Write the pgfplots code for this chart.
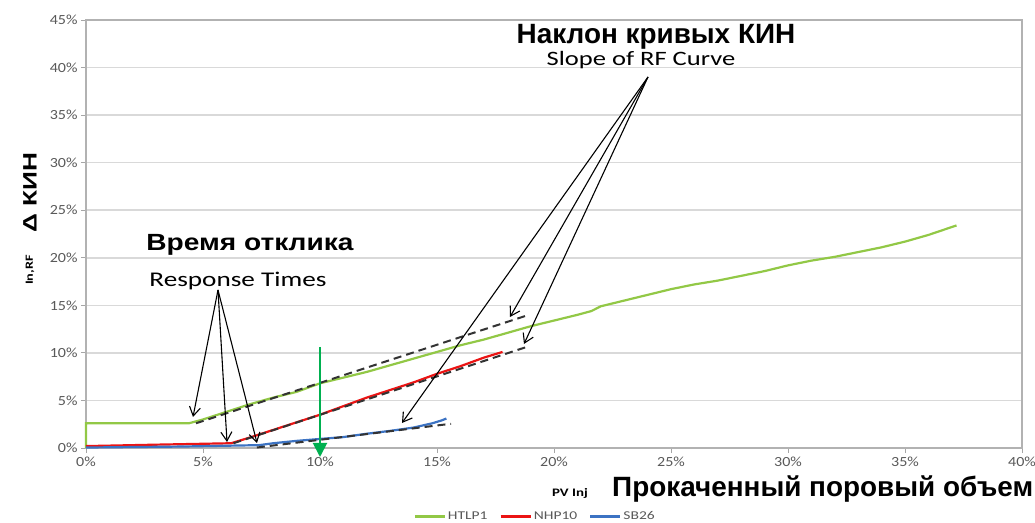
\documentclass[border=0pt]{standalone}
\usepackage{fontspec}
\setmainfont{Carlito}
\newfontfamily\ruf{Liberation Sans}
\newfontfamily\rufw[FakeStretch=1.2]{Liberation Sans}
\newfontfamily\rufs[FakeStretch=1.35]{Liberation Sans}
\newfontfamily\enf[FakeStretch=1.3]{Carlito}
\newfontfamily\tkf[FakeStretch=1.15]{Carlito}
\usepackage{pgfplots}
\pgfplotsset{compat=1.18}
\usetikzlibrary{arrows.meta}

\definecolor{htlp}{RGB}{146,200,70}
\definecolor{nhp}{RGB}{235,20,20}
\definecolor{sbb}{RGB}{60,115,195}
\definecolor{garrow}{RGB}{0,176,80}
\definecolor{tickgray}{RGB}{89,89,89}

\begin{document}
\begin{tikzpicture}
\begin{axis}[
    at={(0,0)}, anchor=south west,
    scale only axis,
    width=936bp, height=428bp,
    xmin=0, xmax=40,
    ymin=0, ymax=45,
    xtick={0,5,...,40},
    ytick={0,5,...,45},
    xticklabel={\pgfmathprintnumber[assume math mode=true]{\tick}\%},
    yticklabel={\pgfmathprintnumber[assume math mode=true]{\tick}\%},
    ticklabel style={font=\tkf\fontsize{14}{15}\selectfont, text=tickgray},
    tick align=outside,
    xtick pos=lower, ytick pos=left,
    major tick length=5bp,
    tick style={gray!70, line width=0.8bp},
    ymajorgrids=true,
    grid style={gray!30, line width=1.5bp},
    axis line style={gray!60, line width=1.2bp},
    clip=false,
    legend columns=3,
    legend style={at={(0.48,-0.16)}, anchor=center, draw=none,
        font=\enf\fontsize{12}{13}\selectfont, text=tickgray,
        /tikz/every even column/.append style={column sep=10bp}},
    legend image code/.code={\draw[#1] (0bp,0bp) -- (30bp,0bp);},
]

% HTLP1
\addplot[color=htlp, line width=2.2bp] coordinates {
    (0,0)(0,2.6)(4.4,2.6)(5,3.0)(6,3.8)(7,4.6)(8,5.3)(9,5.9)(10,6.8)
    (11,7.4)(12,8.0)(13,8.7)(14,9.4)(15,10.1)(16,10.8)(17,11.4)(18,12.1)
    (19,12.8)(20,13.4)(21,14.0)(21.6,14.4)(22,14.9)(23,15.5)(24,16.1)
    (25,16.7)(26,17.2)(27,17.6)(28,18.1)(29,18.6)(30,19.2)(31,19.7)
    (32,20.1)(33,20.6)(34,21.1)(35,21.7)(36,22.4)(37.2,23.4)
};
\addlegendentry{HTLP1}

% NHP10
\addplot[color=nhp, line width=2.2bp] coordinates {
    (0,0.2)(3,0.35)(6.2,0.5)(7,1.1)(8,1.9)(9,2.7)(10,3.5)(11,4.4)(12,5.3)
    (13,6.1)(14,6.9)(15,7.8)(16,8.6)(17,9.5)(17.8,10.1)
};
\addlegendentry{NHP10}

% SB26
\addplot[color=sbb, line width=2.2bp] coordinates {
    (0,0.05)(4,0.15)(7.4,0.3)(8,0.5)(9,0.75)(10,0.95)(11,1.15)(12,1.5)
    (13,1.8)(14,2.15)(14.8,2.6)(15.2,2.9)(15.4,3.1)
};
\addlegendentry{SB26}

% slope lines
\addplot[forget plot, black!80, line width=2bp, dash pattern=on 8bp off 5bp]
    coordinates {(4.7,2.6)(18.8,13.9)};
\addplot[forget plot, black!80, line width=2bp, dash pattern=on 8bp off 5bp]
    coordinates {(6.3,0.5)(18.8,10.6)};
\addplot[forget plot, black!80, line width=2bp, dash pattern=on 8bp off 5bp]
    coordinates {(7.3,0.05)(15.6,2.55)};
\end{axis}

\begin{scope}[x=1bp, y=-1bp, shift={(-86bp,448bp)}]
  % response arrows
  \draw[line width=1.1bp, -{Straight Barb[length=9bp,width=11bp]}] (218,290) -- (193,417);
  \draw[line width=1.1bp, -{Straight Barb[length=9bp,width=11bp]}] (218,290) -- (227,442);
  \draw[line width=1.1bp, -{Straight Barb[length=9bp,width=11bp]}] (218,290) -- (257,443);
  % slope arrows
  \draw[line width=1.1bp, -{Straight Barb[length=9bp,width=11bp]}] (648,77) -- (510,317);
  \draw[line width=1.1bp, -{Straight Barb[length=9bp,width=11bp]}] (648,77) -- (524,344);
  \draw[line width=1.1bp, -{Straight Barb[length=9bp,width=11bp]}] (648,77) -- (402,423);
  % green arrow
  \draw[garrow, line width=2bp, -{Triangle[length=14bp,width=14bp]}] (320,347) -- (320,457);

  \node[font=\ruf\bfseries\fontsize{28}{32}\selectfont] at (656,37) {Наклон кривых КИН};
  \node[font=\enf\fontsize{20.5}{24}\selectfont] at (641,60) {Slope of RF Curve};
  \node[font=\rufw\bfseries\fontsize{23.5}{27}\selectfont] at (250,245) {Время отклика};
  \node[font=\enf\fontsize{21}{24}\selectfont] at (238,281) {Response Times};
  \node[font=\rufs\bfseries\fontsize{19.5}{23}\selectfont, rotate=90] at (30,193) {Δ КИН};
  \node[font=\enf\bfseries\fontsize{11}{13}\selectfont, rotate=90] at (30,270) {In,RF};
  \node[font=\enf\bfseries\fontsize{11.5}{13}\selectfont] at (570,493) {PV Inj};
  \node[font=\ruf\bfseries\fontsize{28}{32}\selectfont, anchor=west, inner sep=0pt] at (612,489) {Прокаченный поровый объем};
\end{scope}

\pgfresetboundingbox
\path[use as bounding box] (-86bp,-75bp) rectangle (949bp,448bp);
\end{tikzpicture}
\end{document}
